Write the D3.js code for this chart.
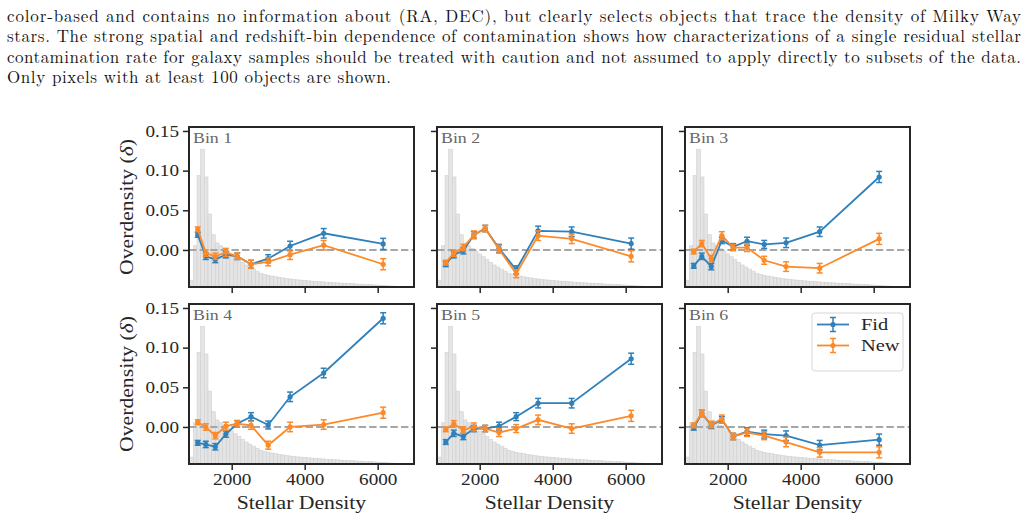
<!DOCTYPE html>
<html>
<head>
<meta charset="utf-8">
<script src="https://cdn.jsdelivr.net/npm/d3@7"></script>
<style>
body { margin: 0; background: #fff; }
svg { display: block; }
</style>
</head>
<body>
<svg id="fig" width="1027" height="521"></svg>
<script>
// caption lines above the figure
var captionLines = [
    "color-based and contains no information about (RA, DEC), but clearly selects objects that trace the density of Milky Way",
    "stars. The strong spatial and redshift-bin dependence of contamination shows how characterizations of a single residual stellar",
    "contamination rate for galaxy samples should be treated with caution and not assumed to apply directly to subsets of the data.",
    "Only pixels with at least 100 objects are shown."
];
var captionWidths = [1014, 1014, 1014, 384];

var binNames = ["Bin 1", "Bin 2", "Bin 3", "Bin 4", "Bin 5", "Bin 6"];
var density = [1070, 1290, 1550, 1840, 2150, 2530, 3000, 3600, 4520, 6150];

var fidValues = [
    [0.019, -0.008, -0.012, -0.006, -0.008, -0.018, -0.011, 0.005, 0.021, 0.0076],
    [-0.018, -0.006, -0.001, 0.019, 0.027, 0.002, -0.025, 0.024, 0.023, 0.008],
    [-0.020, -0.008, -0.021, 0.012, 0.004, 0.011, 0.007, 0.009, 0.023, 0.092],
    [-0.020, -0.022, -0.025, -0.009, 0.004, 0.013, 0.0025, 0.038, 0.068, 0.137],
    [-0.019, -0.008, -0.012, -0.002, -0.002, 0.001, 0.013, 0.030, 0.030, 0.086],
    [-0.001, 0.017, 0.002, 0.009, -0.012, -0.006, -0.009, -0.011, -0.023, -0.016]
];
var newValues = [
    [0.026, -0.004, -0.008, -0.003, -0.008, -0.018, -0.015, -0.006, 0.006, -0.018],
    [-0.016, -0.004, 0.003, 0.019, 0.027, 0.001, -0.030, 0.018, 0.014, -0.008],
    [-0.002, 0.008, -0.011, 0.018, 0.003, 0.003, -0.013, -0.021, -0.023, 0.014],
    [0.006, 0.0, -0.011, 0.001, 0.004, 0.002, -0.023, 0.0, 0.003, 0.018],
    [-0.003, 0.004, -0.004, 0.0, -0.002, -0.007, -0.002, 0.009, -0.002, 0.014],
    [0.002, 0.017, 0.003, 0.010, -0.012, -0.007, -0.011, -0.019, -0.032, -0.032]
];
var fidErr = [0.003, 0.004, 0.004, 0.004, 0.004, 0.005, 0.005, 0.006, 0.006, 0.007];
var newErr = [0.003, 0.004, 0.004, 0.005, 0.004, 0.005, 0.005, 0.006, 0.006, 0.007];

// stellar density histogram drawn behind every panel
var histEdges = [850, 950, 1050, 1150, 1250, 1350, 1450, 1550, 1650, 1750, 1850, 1950, 2050, 2150, 2250,
    2350, 2450, 2550, 2650, 2750, 2850, 2950, 3050, 3150, 3250, 3350, 3450, 3550, 3650, 3750, 3850, 3950,
    4050, 4150, 4250, 4350, 4450, 4550, 4650, 4750, 4850, 4950, 5050, 5150, 5250, 5350, 5450, 5550, 5650,
    5750, 5850, 5950, 6050, 6150, 6250, 6350, 6450, 6550, 6650];
var histCounts = [50, 300, 810, 1000, 800, 530, 380, 320, 300, 280, 260, 240, 220, 200, 180, 160, 145, 130,
    115, 100, 92, 85, 80, 75, 70, 66, 62, 58, 55, 52, 50, 48, 45, 43, 41, 39, 37, 35, 33, 31, 30, 28, 27, 25,
    24, 22, 21, 20, 18, 17, 15, 14, 12, 10, 8, 7, 5, 4];

var xTicks = [2000, 4000, 6000];
var yTicks = [0, 0.05, 0.10, 0.15];

var blue = "#2f80bb";
var orange = "#fd8a28";
var ink = "#262626";
// no DejaVu Serif here: use Liberation Serif a bit larger and widened
var serif = "'Liberation Serif', serif";
var widen = 1.16;

var panelLeft = [189, 437, 685];
var panelTop = [127, 304];
var pw = 225, ph = 160;

var svg = d3.select("#fig");
svg.append("rect").attr("width", 1027).attr("height", 521).attr("fill", "#fff");

// caption
svg.selectAll("text.caption").data(captionLines).enter().append("text")
    .attr("class", "caption")
    .attr("x", 7)
    .attr("y", function (d, i) { return 21.5 + i * 20.5; })
    .attr("textLength", function (d, i) { return captionWidths[i]; })
    .attr("lengthAdjust", "spacing")
    .style("font-family", "'Latin Modern Roman', serif")
    .style("font-size", "17px")
    .attr("fill", "#111")
    .text(function (d) { return d; });

var x = d3.scaleLinear().domain([830, 6995]).range([0, pw]);
var y = d3.scaleLinear().domain([-0.0467, 0.155]).range([ph, 0]);
var h = d3.scaleLinear().domain([0, 1000 / 0.86]).range([ph, 0]);

var defs = svg.append("defs");
defs.append("clipPath").attr("id", "clip")
    .append("rect").attr("width", pw).attr("height", ph);

function drawSeries(g, values, errs, color) {
    var pts = density.map(function (d, i) { return { x: d, v: values[i], e: errs[i] }; });
    var line = d3.line().x(function (d) { return x(d.x); }).y(function (d) { return y(d.v); });
    var s = g.append("g");
    s.append("path").datum(pts)
        .attr("d", line).attr("fill", "none")
        .attr("stroke", color).attr("stroke-width", 1.8);
    var bars = s.selectAll("g.eb").data(pts).enter().append("g");
    bars.append("line")
        .attr("x1", function (d) { return x(d.x); }).attr("x2", function (d) { return x(d.x); })
        .attr("y1", function (d) { return y(d.v - d.e); }).attr("y2", function (d) { return y(d.v + d.e); })
        .attr("stroke", color).attr("stroke-width", 1.5);
    [-1, 1].forEach(function (sgn) {
        bars.append("line")
            .attr("x1", function (d) { return x(d.x) - 3; }).attr("x2", function (d) { return x(d.x) + 3; })
            .attr("y1", function (d) { return y(d.v + sgn * d.e); }).attr("y2", function (d) { return y(d.v + sgn * d.e); })
            .attr("stroke", color).attr("stroke-width", 1.5);
    });
    bars.append("circle")
        .attr("cx", function (d) { return x(d.x); }).attr("cy", function (d) { return y(d.v); })
        .attr("r", 2.6).attr("fill", color);
}

binNames.forEach(function (name, k) {
    var row = Math.floor(k / 3), col = k % 3;
    var g = svg.append("g").attr("transform", "translate(" + panelLeft[col] + "," + panelTop[row] + ")");
    var inner = g.append("g").attr("clip-path", "url(#clip)");

    inner.selectAll("rect.hist").data(histCounts).enter().append("rect")
        .attr("x", function (d, i) { return x(histEdges[i]); })
        .attr("width", function (d, i) { return x(histEdges[i + 1]) - x(histEdges[i]); })
        .attr("y", function (d) { return h(d); })
        .attr("height", function (d) { return ph - h(d); })
        .attr("fill", "#e4e4e4")
        .attr("stroke", "#d0d0d0")
        .attr("stroke-width", 0.6);

    inner.append("line")
        .attr("x1", 0).attr("x2", pw)
        .attr("y1", y(0)).attr("y2", y(0))
        .attr("stroke", "#a6a6a6").attr("stroke-width", 2)
        .attr("stroke-dasharray", "7.4,3.2");

    drawSeries(inner, fidValues[k], fidErr, blue);
    drawSeries(inner, newValues[k], newErr, orange);

    g.append("text").attr("class", "dv").attr("x", 4).attr("y", 16)
        .style("font-family", serif).style("font-size", "15.4px")
        .attr("fill", "#666").text(name);

    var xAxis = d3.axisBottom(x).tickValues(xTicks).tickSize(6).tickSizeOuter(0).tickPadding(3)
        .tickFormat(d3.format("d"));
    if (row === 0) xAxis.tickFormat("");
    var gx = g.append("g").attr("transform", "translate(0," + ph + ")").call(xAxis);

    var yAxis = d3.axisLeft(y).tickValues(yTicks).tickSize(6).tickSizeOuter(0).tickPadding(4)
        .tickFormat(d3.format(".2f"));
    if (col > 0) yAxis.tickFormat("");
    var gy = g.append("g").call(yAxis);

    [gx, gy].forEach(function (ax) {
        ax.attr("font-family", null).attr("font-size", null);
        ax.select(".domain").remove();
        ax.selectAll(".tick line").attr("stroke", ink).attr("stroke-width", 1.5);
        ax.selectAll(".tick text").attr("class", "dv").attr("fill", ink)
            .style("font-family", serif).style("font-size", "16.5px");
    });

    g.append("rect").attr("width", pw).attr("height", ph)
        .attr("fill", "none").attr("stroke", ink).attr("stroke-width", 2);

    if (row === 1) {
        g.append("text").attr("class", "dv").attr("x", pw / 2).attr("y", 205)
            .attr("text-anchor", "middle")
            .style("font-family", serif).style("font-size", "18.7px").attr("fill", ink)
            .text("Stellar Density");
    }
    if (col === 0) {
        var lab = g.append("text").attr("class", "dv")
            .attr("transform", "translate(-56," + (ph / 2) + ") rotate(-90)")
            .attr("text-anchor", "middle")
            .style("font-family", serif).style("font-size", "18.7px").attr("fill", ink);
        lab.append("tspan").text("Overdensity (");
        lab.append("tspan").style("font-style", "italic").text("\u03b4");
        lab.append("tspan").text(")");
    }

    if (k === 5) {
        var leg = g.append("g").attr("transform", "translate(127,9)");
        leg.append("rect").attr("width", 91).attr("height", 58).attr("rx", 3)
            .attr("fill", "#fff").attr("fill-opacity", 0.8)
            .attr("stroke", "#d6d6d6").attr("stroke-width", 1);
        [["Fid", blue], ["New", orange]].forEach(function (it, i) {
            var cy = 11.5 + i * 21;
            leg.append("line").attr("x1", 5).attr("x2", 37).attr("y1", cy).attr("y2", cy)
                .attr("stroke", it[1]).attr("stroke-width", 1.8);
            leg.append("line").attr("x1", 21).attr("x2", 21).attr("y1", cy - 7).attr("y2", cy + 7)
                .attr("stroke", it[1]).attr("stroke-width", 1.5);
            leg.append("line").attr("x1", 18).attr("x2", 24).attr("y1", cy - 7).attr("y2", cy - 7)
                .attr("stroke", it[1]).attr("stroke-width", 1.5);
            leg.append("line").attr("x1", 18).attr("x2", 24).attr("y1", cy + 7).attr("y2", cy + 7)
                .attr("stroke", it[1]).attr("stroke-width", 1.5);
            leg.append("circle").attr("cx", 21).attr("cy", cy).attr("r", 2.6).attr("fill", it[1]);
            leg.append("text").attr("class", "dv").attr("x", 49).attr("y", cy + 5.5)
                .style("font-family", serif).style("font-size", "17.6px").attr("fill", ink)
                .text(it[0]);
        });
    }
});

// widen the serif text towards the wider face used by the original
svg.selectAll("text.dv").each(function () {
    var w = this.getComputedTextLength();
    if (w > 0) {
        d3.select(this).attr("textLength", w * widen).attr("lengthAdjust", "spacingAndGlyphs");
    }
});
</script>
</body>
</html>
